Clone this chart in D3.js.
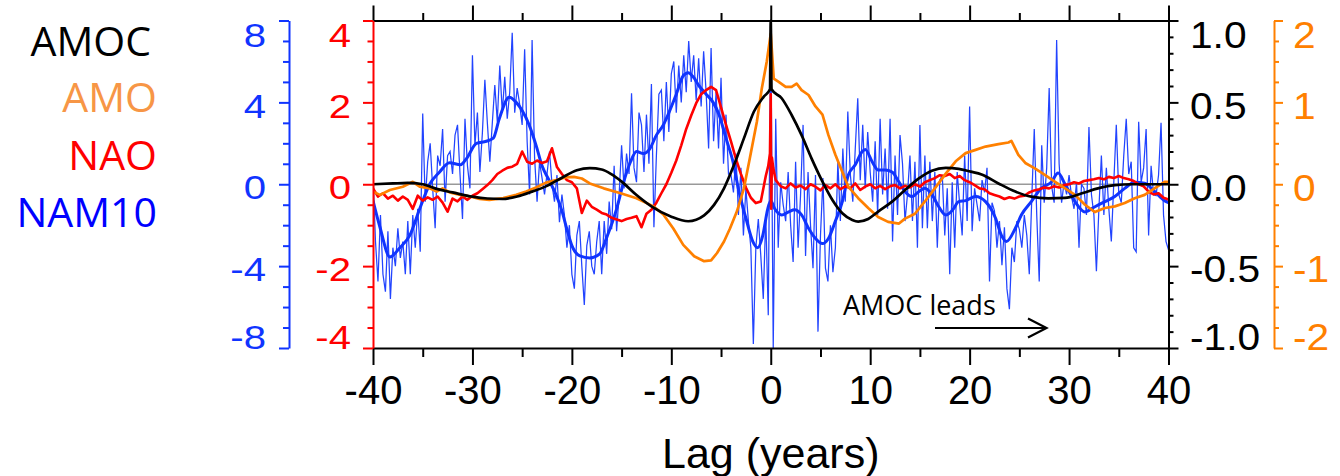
<!DOCTYPE html>
<html><head><meta charset="utf-8">
<script src="https://cdn.jsdelivr.net/npm/d3@7"></script>
<style>
html,body{margin:0;padding:0;background:#fff;}
svg{display:block;}
</style></head><body>
<svg id="chart" width="1340" height="476"></svg>
<script>
// ---------------- DATA ----------------
const lagTicks = [-40,-30,-20,-10,0,10,20,30,40];
const namTicks = [-8,-4,0,4,8];
const naoTicks = [-4,-2,0,2,4];
const amocTicks = [-1,-0.5,0,0.5,1];
const amoTicks = [-2,-1,0,1,2];

// AMOC (black, right axis -1..1)
const amocLag = [-40,-38,-36.5,-35,-33.5,-32,-30,-28.5,-27,-25.5,-24,-22.5,-21,-19.5,-18.2,-17,-16,-15,-13.5,-12,-10,-8.3,-6.7,-5.7,-4.7,-3.7,-2.7,-1.7,-0.7,-0.08,0,0.08,1.1,2.1,3.1,4.1,5.2,6.2,7.2,8.2,8.8,9.8,10.8,12.2,13.5,14.9,16.2,17.6,18.9,20.1,21.2,22.9,24.6,26.2,27.9,29.6,31.3,32.9,34.6,36.3,38,40];
const amocVal = [0.0,0.005,0.008,0.0,-0.03,-0.05,-0.076,-0.087,-0.09,-0.075,-0.045,-0.01,0.04,0.085,0.098,0.09,0.06,0.016,-0.066,-0.135,-0.198,-0.226,-0.19,-0.126,-0.025,0.117,0.28,0.443,0.535,0.58,1.0,0.58,0.525,0.423,0.30,0.158,0.016,-0.096,-0.177,-0.218,-0.228,-0.212,-0.167,-0.106,-0.035,0.036,0.083,0.10,0.094,0.077,0.06,0.005,-0.045,-0.076,-0.086,-0.083,-0.055,-0.025,-0.005,0.0,0.0,0.0];

// AMO (orange, far right axis -2..2)
const amoLag = [-40,-39.3,-38.3,-37,-36,-35.3,-34.3,-33.6,-33,-32.3,-31.2,-30.2,-29.3,-28.3,-26.9,-25.6,-24.6,-23.6,-22.6,-21.6,-20.6,-19.8,-19,-18.2,-16.8,-15.1,-13.5,-11.8,-10.8,-9.8,-8.8,-7.7,-6.7,-6.0,-5.4,-4.7,-4.1,-3.4,-2.7,-2.1,-1.4,-0.9,-0.4,0,0.3,0.8,1.5,2.1,2.6,3.1,3.8,4.5,5.2,5.8,6.5,7.2,7.8,8.8,9.8,10.8,11.8,12.9,13.5,14.5,15.5,16.5,17.6,18.6,19.6,20.6,21.6,22.9,23.9,24.2,24.9,25.6,26.6,27.6,28.6,29.6,30.6,31.6,32.6,33.6,34.6,35.6,36.6,37.6,38.6,39.6,40];
const amoVal = [-0.09,-0.13,-0.07,-0.03,0.03,-0.03,-0.05,-0.09,-0.05,-0.1,-0.13,-0.15,-0.18,-0.19,-0.17,-0.13,-0.09,-0.04,0.02,0.05,0.085,0.09,0.07,0.01,-0.05,-0.11,-0.17,-0.27,-0.37,-0.54,-0.74,-0.88,-0.94,-0.93,-0.84,-0.70,-0.54,-0.33,-0.05,0.32,0.76,1.17,1.5,1.84,1.29,1.25,1.19,1.19,1.23,1.15,1.09,0.95,0.85,0.6,0.36,0.15,-0.03,-0.17,-0.29,-0.4,-0.46,-0.48,-0.42,-0.36,-0.21,-0.05,0.13,0.28,0.38,0.42,0.46,0.49,0.51,0.53,0.36,0.26,0.19,0.11,0.03,-0.05,-0.13,-0.25,-0.34,-0.29,-0.27,-0.23,-0.17,-0.13,-0.05,0.03,0.03];

// NAO (red, axis -4..4), every 0.5 yr from -40 to 40
const naoVal = [
-0.1,-0.3,-0.22,-0.35,-0.28,-0.4,-0.3,-0.38,-0.6,-0.28,
-0.4,-0.32,-0.38,-0.3,-0.45,-0.67,-0.35,-0.42,-0.3,-0.38,
-0.28,-0.22,-0.12,-0.02,0.1,0.25,0.33,0.4,0.43,0.5,
0.8,0.55,0.5,0.58,0.52,0.56,0.88,0.42,0.25,0.1,
0.05,-0.1,-0.7,-0.4,-0.55,-0.62,-0.7,-0.74,-0.82,-0.86,
-0.9,-0.85,-0.82,-0.78,-1.05,-0.72,-0.62,-0.45,-0.22,0.0,
0.28,0.58,0.95,1.35,1.68,1.98,2.2,2.3,2.38,2.3,
1.88,1.45,1.05,0.62,0.25,-0.08,-0.33,-0.46,-0.42,0.2,
0.8,0.1,-0.05,-0.1,0.02,-0.08,-0.03,-0.12,0.0,-0.06,
-0.15,-0.02,-0.1,0.0,-0.12,-0.05,-0.1,0.02,-0.14,-0.06,
0.0,-0.1,-0.04,-0.12,-0.05,-0.02,-0.1,-0.04,-0.08,0.0,
-0.06,0.05,0.1,0.15,0.22,0.2,0.25,0.15,0.2,0.1,
0.05,-0.02,-0.1,-0.12,-0.22,-0.26,-0.3,-0.36,-0.32,-0.35,
-0.3,-0.28,-0.2,-0.15,-0.12,-0.08,-0.1,-0.05,-0.08,-0.02,
0.0,0.05,0.02,0.08,0.1,0.12,0.15,0.12,0.18,0.15,
0.2,0.15,0.12,0.08,0.0,-0.05,-0.18,-0.25,-0.22,-0.33,
-0.37];
// NAO detail around lag 0
const naoPeakLag = [-0.25,-0.08,0,0.04,0.12,0.25];
const naoPeakVal = [0.45,0.75,2.2,-0.6,0.65,0.4];

// NAM10 raw (thin blue, axis -8..8), every 0.25 yr from -40 to 40
const namRaw = [
0.5,-2.8,-4.75,-1.5, -4.4,-5.25,-2.3,-5.6,
-3.1,-4.0,-2.15,-3.6, -2.8,-4.4,-1.8,-4.4,
-1.5,-3.1,-1.2,-3.3, 3.45,-0.85,1.1,2.0,
-0.2,-2.15,1.4,0.9, 2.7,-0.85,1.4,1.6,
0.5,2.4,2.9,0.5, -1.7,3.2,0.9,-0.2,
6.3,1.9,3.5,0.6, 2.5,5.1,3.0,1.1,
3.0,4.85,3.05,5.8, 3.5,5.25,3.2,4.5,
7.4,3.5,4.7,3.9, 2.9,6.6,2.1,-0.5,
7.05,1.3,-0.85,1.1, 0.3,-0.5,0.5,1.6,
0.0,-0.85,0.45,-1.85, -0.5,-1.5,-3.1,-2.0,
-4.4,-5.1,-2.5,-1.8, -4.0,-5.9,-3.0,-2.3,
-4.0,-4.4,-2.8,-1.8, -4.4,-1.8,-3.4,-0.85,
-2.2,0.9,-2.3,-0.5, 1.9,-0.2,1.5,0.5,
4.45,0.8,0.1,3.5, 2.9,0.6,3.4,1.0,
4.9,-2.1,1.4,4.4, 4.6,2.1,5.0,2.55,
5.4,6.0,3.5,5.8, 4.0,6.3,4.5,7.0,
5.0,6.3,4.1,6.15, 3.8,6.5,4.5,1.75,
6.65,2.1,4.5,1.75, 5.2,1.0,3.4,0.5,
0.45,-0.4,1.5,-1.5, 0.8,-2.5,-0.2,-1.8,
-3.1,-7.8,-3.1,-1.7, -3.5,-5.6,-1.5,-6.4,
8.0,-8.0,3.2,-3.1, 0.1,-1.0,-1.8,0.6,
-2.0,-3.8,1.1,-3.1, -0.5,2.9,-3.5,0.6,
-2.0,-4.1,0.45,-7.2, -2.5,0.3,-4.1,-4.75,
-2.0,-4.3,-3.1,1.1, -1.8,1.75,-0.85,3.55,
0.5,-0.85,1.75,4.2, 0.2,2.9,-0.2,2.55,
0.6,-0.85,2.1,-1.5, 3.2,-0.5,1.75,-1.2,
3.2,-2.8,1.4,-1.5, 2.4,1.0,-1.8,-0.5,
1.4,-1.8,1.1,-3.1, 2.9,-2.15,1.4,-2.15,
1.1,-1.8,0.6,-3.1, 0.2,0.45,-2.5,-0.2,
-4.4,0.1,-3.1,0.6, -1.0,-2.5,1.4,-1.8,
3.8,-2.3,-0.2,-1.0, -1.8,0.2,-0.4,0.8,
-4.75,-0.9,-1.3,-3.1, -1.8,-3.95,-2.1,-5.1,
-6.1,-3.1,-3.8,-1.8, -2.2,-3.1,-1.5,-2.5,
-4.4,-0.7,2.7,-1.5, -4.75,1.9,-0.9,0.8,
4.7,-0.1,-0.9,7.05, 1.0,-0.9,0.1,-0.5,
0.45,-0.6,-1.2,0.1, -3.1,0.0,-0.2,-1.5,
2.8,-0.5,-1.5,-4.25, -1.2,1.4,-1.5,0.8,
-1.2,-2.8,0.1,2.9, -0.5,-0.9,1.4,3.2,
0.5,1.1,-3.1,-3.3, 3.05,0.1,0.8,2.7,
-2.5,0.9,-0.5,-0.55, 0.45,3.0,-1.5,-2.8,
-3.2];

// NAM10 smoothed (thick blue)
const namSLag = [-40,-39.3,-38.3,-37.3,-36.3,-35.3,-34.3,-33.3,-32.3,-31.2,-30.6,-29.6,-28.6,-27.9,-27.3,-26.3,-25.6,-25.0,-24.3,-23.6,-23,-22.3,-21.6,-21,-20.5,-20,-19.2,-18.2,-17.2,-16.5,-15.5,-14.8,-14.1,-13.5,-12.8,-12.2,-11.5,-10.8,-10.2,-9.5,-8.8,-8.3,-7.8,-7.2,-6.5,-5.8,-5.2,-4.5,-3.8,-3.2,-2.5,-1.8,-1.3,-0.8,-0.3,0,0.4,1.1,1.8,2.4,3.1,3.8,4.5,5.2,5.8,6.5,7.2,7.8,8.5,9.2,9.5,10.2,10.8,11.5,12.2,12.9,13.5,14.2,14.9,15.5,16.2,16.9,17.6,18.3,18.9,19.6,20.6,21.6,22.6,23.2,23.7,24.6,25.2,26.2,27.2,28.2,28.9,29.6,30.6,31.6,32.6,33.6,34.6,35.6,36.6,37.6,38.6,39.6,40];
const namSVal = [-0.8,-2.1,-3.55,-3.1,-2.5,-1.2,0.0,0.6,1.05,0.95,1.25,2.0,2.1,2.25,3.2,4.25,4.0,3.6,2.9,1.9,0.9,0.2,-0.5,-1.3,-2.2,-3.0,-3.5,-3.6,-3.4,-2.6,-1.2,0.1,1.1,1.6,1.5,1.7,2.4,2.9,3.55,4.4,5.3,5.45,5.25,4.8,4.4,4.0,3.4,2.25,1.1,-0.35,-1.65,-2.8,-3.1,-2.5,-1.2,-0.8,-1.2,-1.5,-1.35,-1.25,-1.5,-2.15,-2.65,-2.9,-2.65,-1.8,-0.85,0.45,0.95,1.6,1.7,1.1,0.7,0.7,0.6,0.1,-0.35,-0.6,-0.35,-0.2,-0.5,-1.1,-1.5,-1.25,-0.85,-0.8,-0.6,-0.85,-1.65,-2.5,-2.8,-2.15,-1.5,-0.85,-0.2,0.1,0.55,0.0,-0.85,-1.35,-1.1,-0.85,-0.6,-0.2,0.1,0.05,-0.35,-0.8,-0.9];

const legendNames = ["AMOC","AMO","NAO","NAM10"];
const legendColors = ["#000000","#f79646","#ff0000","#0000ff"];

// ---------------- LAYOUT ----------------
const svg = d3.select('#chart');
const X0 = 373, X1 = 1168.5, YT = 20.5, YB = 348;
const AX_FONT = '"Liberation Sans", Arial, Helvetica, sans-serif';
const BLUE = "#1034ff", RED = "#ff0000", ORANGE = "#ff8000";

const x = d3.scaleLinear().domain([-40,40]).range([X0,X1]);
const yNam = d3.scaleLinear().domain([-8,8]).range([YB,YT]);
const yNao = d3.scaleLinear().domain([-4,4]).range([YB,YT]);
const yAmoc = d3.scaleLinear().domain([-1,1]).range([YB,YT]);
const yAmo = d3.scaleLinear().domain([-2,2]).range([YB,YT]);

// clip
svg.append('clipPath').attr('id','plotclip').append('rect')
  .attr('x',X0).attr('y',YT-1).attr('width',X1-X0).attr('height',YB-YT+2);

// zero line
svg.append('line').attr('x1',X0).attr('x2',X1)
  .attr('y1',yAmoc(0)).attr('y2',yAmoc(0))
  .attr('stroke','#999').attr('stroke-width',1.6);

const plot = svg.append('g').attr('clip-path','url(#plotclip)');

const namRawData = namRaw.map((v,i)=>[-40+i*0.25, v]);
const naoGrid = naoVal.map((v,i)=>[-40+i*0.5, v]).filter(d=>Math.abs(d[0])>0.3);
const naoData = naoGrid.concat(naoPeakLag.map((l,i)=>[l,naoPeakVal[i]])).sort((a,b)=>a[0]-b[0]);
const namSData = namSLag.map((l,i)=>[l,namSVal[i]]);
const amoData = amoLag.map((l,i)=>[l,amoVal[i]]);
const amocData = amocLag.map((l,i)=>[l,amocVal[i]]);

const line = (ys, curve) => d3.line().x(d=>x(d[0])).y(d=>ys(d[1])).curve(curve||d3.curveLinear);

plot.append('path').datum(namRawData).attr('d', line(yNam))
  .attr('fill','none').attr('stroke','#2244ff').attr('stroke-width',1.25);
plot.append('path').datum(namSData).attr('d', line(yNam, d3.curveMonotoneX))
  .attr('fill','none').attr('stroke',BLUE).attr('stroke-width',3);
plot.append('path').datum(naoData).attr('d', line(yNao))
  .attr('fill','none').attr('stroke',RED).attr('stroke-width',2.6).attr('stroke-linejoin','round');
plot.append('path').datum(amoData).attr('d', line(yAmo))
  .attr('fill','none').attr('stroke',ORANGE).attr('stroke-width',2.7).attr('stroke-linejoin','round');
plot.append('path').datum(amocData).attr('d', line(yAmoc, d3.curveMonotoneX))
  .attr('fill','none').attr('stroke','#000').attr('stroke-width',2.7);

// ---------------- AXES ----------------
function styleAxis(g, color){
  g.attr('color', color);
  g.select('.domain').attr('stroke-width',2);
  g.selectAll('.tick line').attr('stroke-width',2);
}
const lagAll = d3.range(-8,9).map(i=>i*5);
const gTop = svg.append('g').attr('transform',`translate(0,${YT})`)
  .call(d3.axisTop(x).tickValues(lagAll).tickFormat('').tickSizeOuter(0));
gTop.selectAll('.tick line').attr('y2', d => d%10===0 ? -15 : -7.5);
styleAxis(gTop,'#000');

const gBot = svg.append('g').attr('transform',`translate(0,${YB})`)
  .call(d3.axisBottom(x).tickValues(lagAll).tickFormat(d => lagTicks.includes(d) ? String(d) : '').tickSizeOuter(0));
gBot.selectAll('.tick line').attr('y2', d => d%10===0 ? 17 : 9);
gBot.selectAll('.tick text').attr('y', 27.5).attr('dy','0.71em')
  .style('font-family',AX_FONT).style('font-size','40px').attr('fill','#000');
styleAxis(gBot,'#000');

const gNam = svg.append('g').attr('transform','translate(289,0)')
  .call(d3.axisLeft(yNam).tickValues(d3.range(-8,9)).tickFormat('').tickSizeOuter(0));
gNam.selectAll('.tick line').attr('x2', d => d%4===0 ? -10 : -6);
styleAxis(gNam,BLUE);

const gNao = svg.append('g').attr('transform',`translate(${X0},0)`)
  .call(d3.axisLeft(yNao).tickValues(d3.range(-8,9).map(i=>i/2)).tickFormat('').tickSizeOuter(0));
gNao.selectAll('.tick line').attr('x2', d => d%2===0 ? -10 : -5.5);
styleAxis(gNao,RED);

const gAmoc = svg.append('g').attr('transform',`translate(${X1},0)`)
  .call(d3.axisRight(yAmoc).tickValues(d3.range(-10,11).map(i=>i/10)).tickFormat('').tickSizeOuter(0));
gAmoc.selectAll('.tick line').attr('x2', (d,i) => (Math.round(d*10)%5===0) ? 10 : 5);
styleAxis(gAmoc,'#000');

const gAmo = svg.append('g').attr('transform','translate(1274,0)')
  .call(d3.axisRight(yAmo).tickValues(d3.range(-8,9).map(i=>i/4)).tickFormat('').tickSizeOuter(0));
gAmo.selectAll('.tick line').attr('x2', d => Number.isInteger(d) ? 9 : 5);
styleAxis(gAmo,ORANGE);

// vertical tick labels
const clampY = y => Math.max(YT+14, Math.min(YB-11, y+3));
function vLabels(vals, scale, xPos, anchor, fmt, color, size, sx){
  svg.append('g').selectAll('text').data(vals).join('text')
    .attr('transform', d => `translate(${xPos},${clampY(scale(d))}) scale(${sx},1)`)
    .attr('text-anchor', anchor).attr('dy','0.36em')
    .attr('fill', color)
    .style('font-family', AX_FONT).style('font-size', size+'px')
    .text(fmt);
}
vLabels(namTicks, yNam, 266, 'end', d=>String(d), BLUE, 34, 1.18);
vLabels(naoTicks, yNao, 351, 'end', d=>String(d), RED, 34, 1.18);
vLabels(amocTicks, yAmoc, 1190, 'start', d=>d.toFixed(1), '#000', 37, 1.1);
vLabels(amoTicks, yAmo, 1293, 'start', d=>String(d), ORANGE, 37, 1.1);

// axis title
svg.append('text').attr('x', x(0)).attr('y', 468).attr('text-anchor','middle')
  .style('font-family',AX_FONT).style('font-size','43px').attr('fill','#000')
  .text('Lag (years)');

// legend
const legX = [151,157,157,157];
const legY = [56,112,170,227];
svg.append('g').selectAll('text').data(legendNames).join('text')
  .attr('x',(d,i)=>legX[i]).attr('y',(d,i)=>legY[i]).attr('text-anchor','end')
  .attr('fill',(d,i)=>legendColors[i])
  .style('font-family','"Open Sans", "Noto Sans", sans-serif').style('font-size','41px')
  .text(d=>d);

// annotation
svg.append('text').attr('x',843).attr('y',315)
  .style('font-family','"Open Sans", "Noto Sans", sans-serif').style('font-size','27px')
  .attr('fill','#000').text('AMOC leads');
svg.append('line').attr('x1',935).attr('x2',1046).attr('y1',328).attr('y2',328)
  .attr('stroke','#000').attr('stroke-width',2.2);
svg.append('polyline').attr('points','1028,318.5 1046.5,328 1028,337.5')
  .attr('fill','none').attr('stroke','#000').attr('stroke-width',2.2);
</script></body></html>
